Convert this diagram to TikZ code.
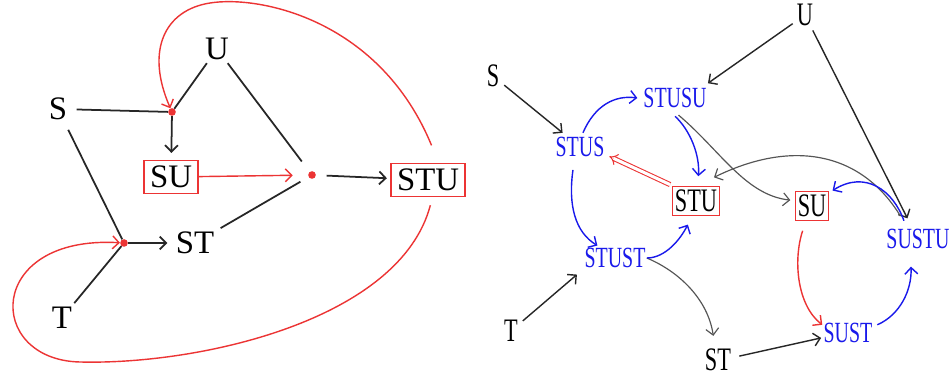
\documentclass[tikz,border=0pt]{standalone}
\usepackage{fontspec}
\setmainfont{Liberation Serif}
\usepackage{graphicx}
\usetikzlibrary{arrows.meta}
\definecolor{myred}{RGB}{236,52,52}
\definecolor{myblue}{RGB}{25,25,235}
\definecolor{mygray}{RGB}{85,85,85}
\newcommand{\sq}[1]{\scalebox{0.68}[1]{#1}}
\tikzset{
  lbl/.style={font=\fontsize{28}{30}\selectfont, inner sep=1pt},
  rl/.style={font=\fontsize{28}{30}\selectfont, inner sep=1pt},
  blu/.style={font=\fontsize{25}{27}\selectfont, text=myblue, inner sep=1pt},
  rbox/.style={draw=myred, line width=1.3pt, inner xsep=5pt, inner ysep=4.5pt},
  rboxtwo/.style={draw=myred, line width=1.1pt, inner xsep=1.8pt, inner ysep=3.2pt},
  dotn/.style={circle, fill=myred, inner sep=0pt, minimum size=6.5pt},
  bl/.style={draw=black!85, line width=1.5pt},
  rd/.style={draw=myred, line width=1.2pt},
  bk/.style={draw=black!85, line width=1.2pt},
  gy/.style={draw=mygray, line width=1.0pt},
  bu/.style={draw=myblue, line width=1.2pt},
  >={Straight Barb[length=5.5pt,width=11pt]}
}
\begin{document}
\begin{tikzpicture}[x=0.03cm,y=-0.03cm]
\useasboundingbox[fill=white] (0,0) rectangle (951,377);
% ---------------- left panel ----------------
\node[lbl] (U) at (217,49) {U};
\node[lbl] (S) at (58,109) {S};
\node[lbl,rbox] (SU) at (171,177) {SU};
\node[lbl,rbox] (STU) at (428,180) {STU};
\node[lbl] (ST) at (195,243) {ST};
\node[lbl] (T) at (62,318) {T};
\node[dotn] (d1) at (172,112) {};
\node[dotn] (d2) at (312,175) {};
\node[dotn] (d3) at (124,243) {};

\draw[bl, shorten <=7pt] (S) -- (d1);
\draw[bl, shorten <=2pt] (U) -- (d1);
\draw[bl, ->, shorten >=6pt] (d1) -- (SU);
\draw[bl, shorten <=2pt, shorten >=11pt] (U) -- (d2);
\draw[bl, shorten <=5pt, shorten >=8pt] (ST) -- (d2);
\draw[bl, ->, shorten <=9pt, shorten >=3pt] (d2) -- (STU);
\draw[rd, ->, shorten >=13pt] (SU) -- (d2);
\draw[bl, shorten <=8pt] (S) -- (d3);
\draw[bl, shorten <=3pt] (T) -- (d3);
\draw[bl, ->, shorten >=6pt] (d3) -- (ST);

\draw[rd, ->] ([xshift=3pt,yshift=15pt]STU.north)
  .. controls (380,20) and (260,-5) .. (210,3)
  .. controls (165,10) and (145,50) .. ([xshift=-5pt,yshift=14pt]d1);
\draw[rd, ->] ([xshift=2pt,yshift=-7pt]STU.south)
  .. controls (400,320) and (200,365) .. (80,362)
  .. controls (-15,360) and (-15,235) .. ([xshift=-20pt]d3);

% ---------------- right panel ----------------
\node[rl] (U2) at (805,15) {\sq{U}};
\node[rl] (S2) at (493,76) {\sq{S}};
\node[blu] (STUSU) at (675,98) {\sq{STUSU}};
\node[blu] (STUS) at (580,147) {\sq{STUS}};
\node[rl,rboxtwo] (STU2) at (696,201) {\sq{STU}};
\node[rl,rboxtwo] (SU2) at (812,206) {\sq{SU}};
\node[blu] (SUSTU) at (918,239) {\sq{SUSTU}};
\node[blu] (STUST) at (615,258) {\sq{STUST}};
\node[rl] (T2) at (511,331) {\sq{T}};
\node[rl] (ST2) at (718,360) {\sq{ST}};
\node[blu] (SUST) at (848,333) {\sq{SUST}};

\draw[bk, ->, shorten <=4pt, shorten >=4pt] (S2) -- (STUS);
\draw[bk, ->, shorten <=3pt] (U2) -- ([yshift=3pt]STUSU.north east);
\draw[bk, ->, shorten <=3pt, shorten >=9pt] (U2) -- ([xshift=-5pt]SUSTU.north);
\draw[bk, ->, shorten <=4pt, shorten >=7pt] (T2) -- (STUST.south west);
\draw[bk, ->, shorten <=6pt, shorten >=1pt] ([yshift=2pt]ST2.east) -- ([yshift=-4pt]SUST.west);

\draw[gy, ->] (STUST.east) .. controls (680,272) and (708,300) .. ([xshift=-4pt,yshift=10pt]ST2.north);
\draw[bu, ->] (STUST.east) .. controls (665,258) and (680,240) .. ([xshift=-7pt,yshift=-7pt]STU2.south);
\draw[bu, ->] ([xshift=-6pt,yshift=-10pt]STUS.south) .. controls (568,205) and (575,232) .. ([xshift=-15pt,yshift=1pt]STUST.north);
\draw[bu, ->] ([xshift=2.5pt,yshift=2.5pt]STUS.north) .. controls (595,105) and (615,95) .. ([xshift=-4pt]STUSU.west);
\draw[bu, ->] ([yshift=-6pt]STUSU.south) .. controls (690,130) and (700,155) .. ([xshift=2pt,yshift=8pt]STU2.north);
\draw[gy, ->] ([xshift=3pt,yshift=-5pt]STUSU.south) .. controls (720,150) and (745,195) .. ([xshift=-4pt,yshift=5pt]SU2.west);
\draw[gy, ->] ([xshift=-15pt,yshift=10pt]SUSTU.north) .. controls (860,150) and (790,140) .. ([xshift=-5pt,yshift=7pt]STU2.north east);
\draw[bu, ->] ([xshift=-12pt,yshift=6pt]SUSTU.north) .. controls (893,190) and (865,170) .. ([xshift=3pt]SU2.north east);
\draw[rd, ->] ([xshift=-8pt,yshift=-8pt]SU2.south) .. controls (793,260) and (797,305) .. ([yshift=7pt]SUST.west);
\draw[bu, ->] ([xshift=3pt,yshift=7pt]SUST.east) .. controls (900,315) and (912,290) .. ([xshift=-6pt,yshift=-14pt]SUSTU.south);
\draw[draw=myred, double=white, double distance=2.6pt, line width=0.9pt, -{Implies}, shorten <=2pt]
  (STU2.north west) -- ([xshift=3pt,yshift=-8pt]STUS.east);
\end{tikzpicture}
\end{document}
